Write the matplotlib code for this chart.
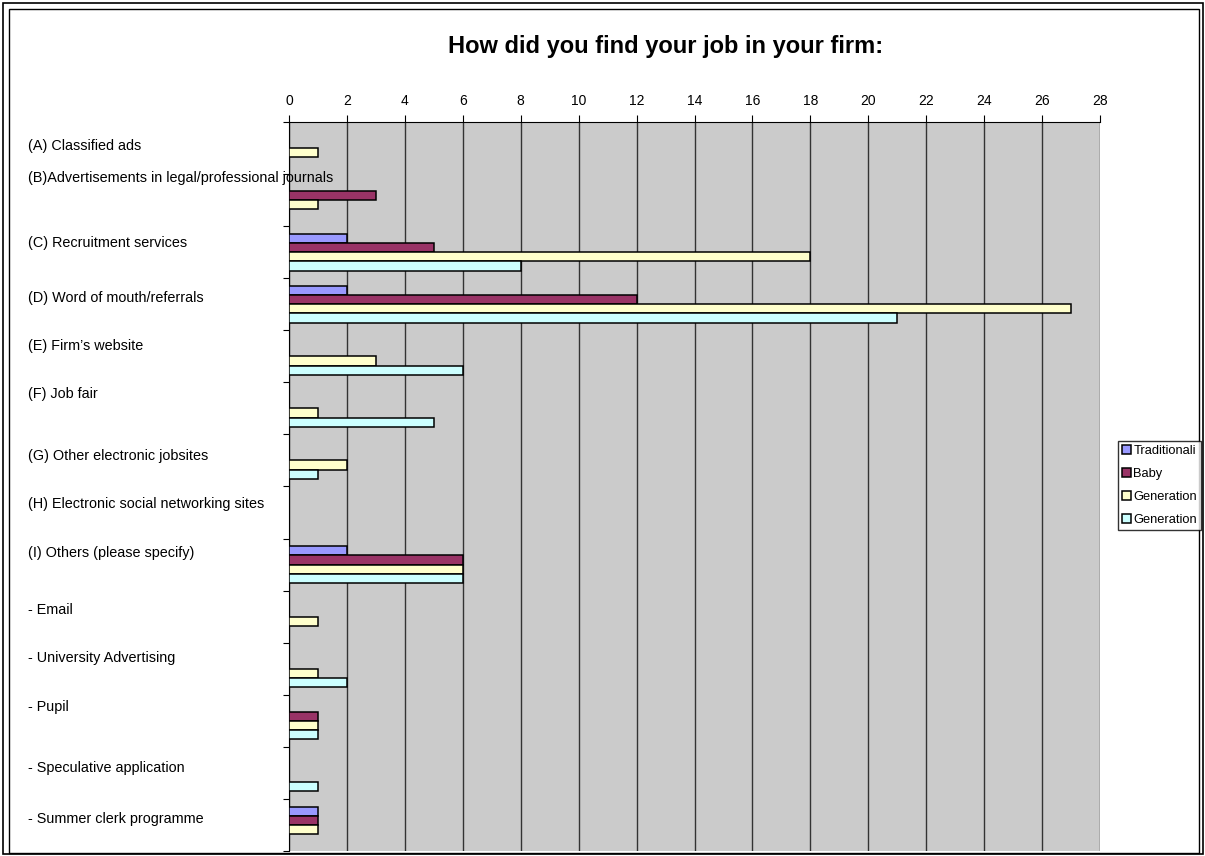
import matplotlib.pyplot as plt
import numpy as np
from matplotlib.patches import Rectangle
from matplotlib.transforms import blended_transform_factory

plt.rcParams['font.family'] = ['Liberation Sans', 'DejaVu Sans']

categories = [
    "(A) Classified ads",
    "(B)Advertisements in legal/professional journals",
    "(C) Recruitment services",
    "(D) Word of mouth/referrals",
    "(E) Firm\u2019s website",
    "(F) Job fair",
    "(G) Other electronic jobsites",
    "(H) Electronic social networking sites",
    "(I) Others (please specify)",
    "- Email",
    "- University Advertising",
    "- Pupil",
    "- Speculative application",
    "- Summer clerk programme",
]
series_names = ["Traditionali", "Baby", "Generation", "Generation"]
traditionalists = [0, 0, 2, 2, 0, 0, 0, 0, 2, 0, 0, 0, 0, 1]
baby_boomers = [0, 3, 5, 12, 0, 0, 0, 0, 6, 0, 0, 1, 0, 1]
generation_x = [1, 1, 18, 27, 3, 1, 2, 0, 6, 1, 1, 1, 0, 1]
generation_y = [0, 0, 8, 21, 6, 5, 1, 0, 6, 0, 2, 1, 1, 0]
series_values = [traditionalists, baby_boomers, generation_x, generation_y]
colors = ["#9999FF", "#993366", "#FFFFCC", "#CCFFFF"]

# how far each category label sits above its group centre (group units)
label_shift = [0.04, 0.42, 0.17, 0.12, 0.19, 0.27, 0.08, 0.17, 0.23,
               0.12, 0.21, 0.27, 0.10, 0.12]

n = len(categories)
fig = plt.figure(figsize=(12.05, 8.56), dpi=100)
ax = fig.add_axes([289 / 1205, 1 - 851 / 856, 811 / 1205, 729 / 856])
ax.set_facecolor("#CBCBCB")

bar_h = 0.177
y = np.arange(n) + 0.5
for j, (vals, col, name) in enumerate(zip(series_values, colors, series_names)):
    ax.barh(y + (j - 1.5) * bar_h, vals, height=bar_h, color=col,
            edgecolor="black", linewidth=1.1, label=name, zorder=3)

ax.set_xlim(0, 28)
ax.set_ylim(n, 0)
ax.set_xticks(np.arange(0, 29, 2))
ax.xaxis.tick_top()
ax.tick_params(axis="x", length=5, labelsize=10, pad=5)
ax.set_yticks(np.arange(0, n + 1))
ax.set_yticklabels([])
ax.tick_params(axis="y", length=4, direction="out")
ax.grid(axis="x", color="#333333", linewidth=1.0, zorder=1)
ax.set_axisbelow(True)
for s in ["right", "bottom"]:
    ax.spines[s].set_visible(False)

# category labels sit at the left edge of the page, above each group
trans = blended_transform_factory(fig.transFigure, ax.transData)
for i, lab in enumerate(categories):
    ax.text(28 / 1205, i + 0.5 - label_shift[i], lab, transform=trans,
            ha="left", va="center", fontsize=10.4, zorder=5, clip_on=False)

fig.text(666 / 1205, 1 - 47 / 856, "How did you find your job in your firm:",
         ha="center", va="center", fontsize=17, fontweight="bold")

leg = fig.legend(loc="upper left", bbox_to_anchor=(1118 / 1205, 1 - 441 / 856),
                 fontsize=9.3, frameon=True, fancybox=False, borderpad=0.3,
                 handlelength=0.7, handleheight=0.7, handletextpad=0.2,
                 labelspacing=0.85, borderaxespad=0)
leg.get_frame().set_edgecolor("black")
leg.get_frame().set_linewidth(1.0)

# page frames
fig.patches.append(Rectangle((3 / 1205, 2 / 856), 1200 / 1205, 851 / 856,
                             transform=fig.transFigure, fill=False,
                             edgecolor="black", linewidth=1.2))
fig.patches.append(Rectangle((9 / 1205, 3 / 856), 1190 / 1205, 844 / 856,
                             transform=fig.transFigure, fill=False,
                             edgecolor="black", linewidth=1.0))

plt.savefig("out.png", dpi=100)
